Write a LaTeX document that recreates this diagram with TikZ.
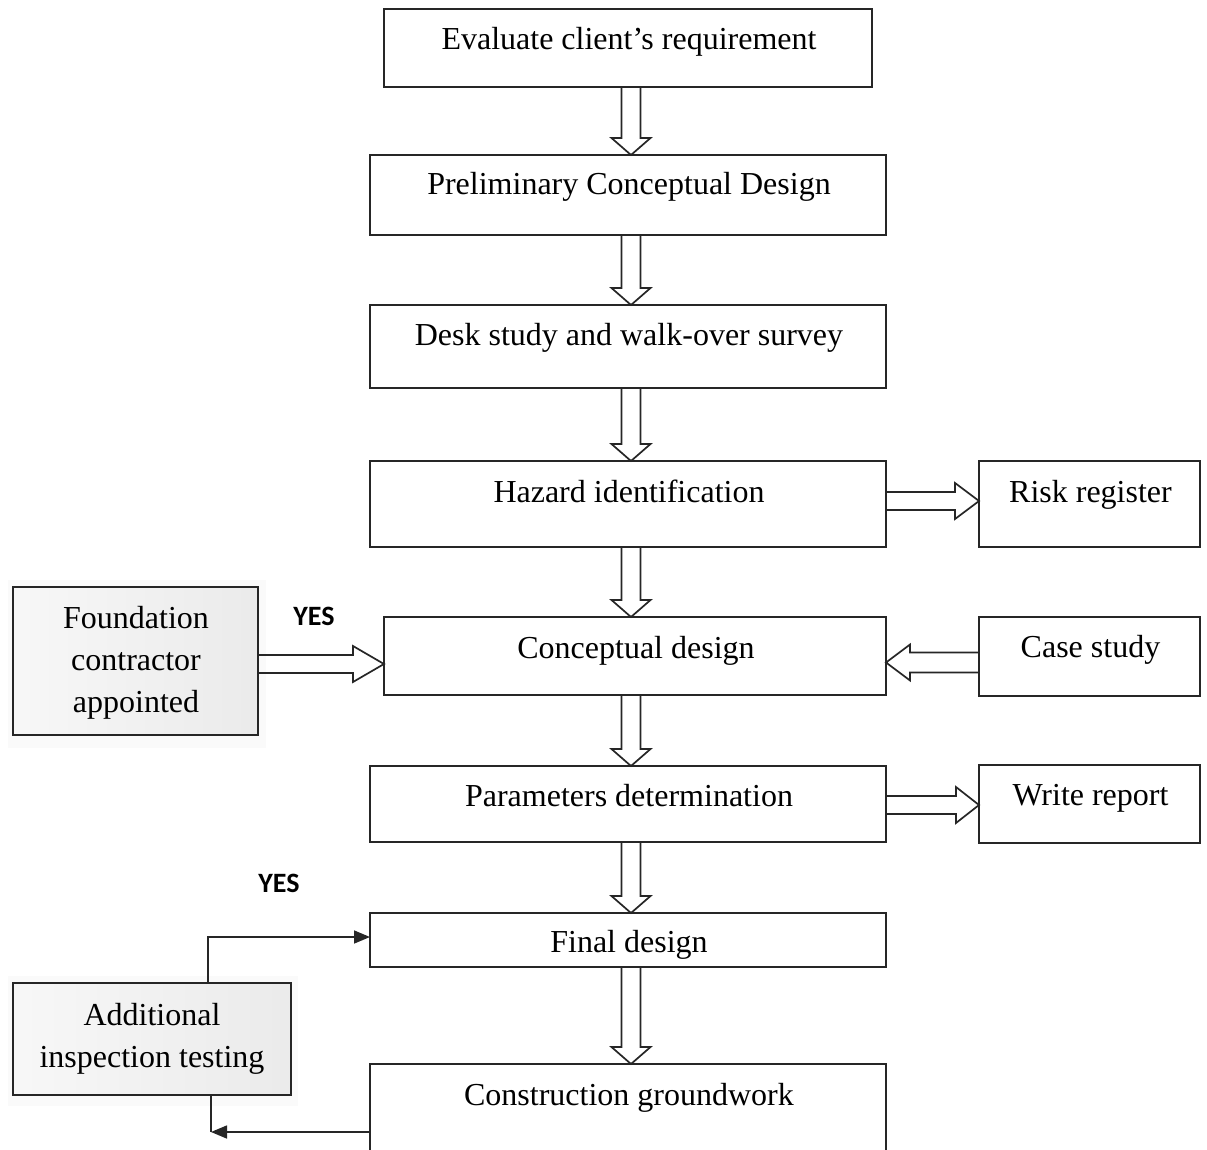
\documentclass[tikz,border=0pt]{standalone}
\usepackage{fontspec}
\setmainfont{Liberation Serif}
\newfontfamily\yesfont{Carlito}
\usetikzlibrary{calc,arrows.meta}
\tikzset{
  box/.style={draw=black!85, line width=1.6pt, rectangle, inner sep=0pt, outer sep=0pt},
  graybox/.style={box, left color=gray!6, right color=gray!16},
  lbl/.style={anchor=base, font=\fontsize{32}{42}\selectfont, align=center, inner sep=0pt},
  yes/.style={anchor=base, font=\yesfont\bfseries\fontsize{28}{32}\selectfont, inner sep=0pt},
  hollow/.style={draw=black!85, line width=1.7pt, line join=miter},
  conn/.style={draw=black!85, line width=1.6pt},
  connarr/.style={conn, -{Triangle[length=16pt,width=13pt]}}
}
% box: name, x1, y1, x2, y2, style
\newcommand\mkbox[6]{%
  \node[#6, minimum width={#4pt-#2pt}, minimum height={#5pt-#3pt}, anchor=north west] (#1) at (#2,#3) {};}
% vertical hollow arrow from #1 down to #2
\newcommand\vhol[2]{%
  \coordinate (vs) at (#1.south -| axis);
  \coordinate (vt) at (#2.north -| axis);
  \draw[hollow] ($(vs)+(-9.5,0)$) -- ($(vt)+(-9.5,-17)$) -- ($(vt)+(-19.5,-17)$) -- (vt)
     -- ($(vt)+(19.5,-17)$) -- ($(vt)+(9.5,-17)$) -- ($(vs)+(9.5,0)$);}
% rightward hollow arrow #1 -> #2, y offset #3, head length #4
\newcommand\hright[4]{%
  \coordinate (hs) at ($(#1.east)+(0,#3)$);
  \coordinate (ht) at (#2.west |- hs);
  \draw[hollow] ($(hs)+(0,-9)$) -- ($(ht)+(-#4,-9)$) -- ($(ht)+(-#4,-18)$) -- (ht)
     -- ($(ht)+(-#4,18)$) -- ($(ht)+(-#4,9)$) -- ($(hs)+(0,9)$);}
% leftward hollow arrow #1 -> #2
\newcommand\hleft[4]{%
  \coordinate (hs) at ($(#1.west)+(0,#3)$);
  \coordinate (ht) at (#2.east |- hs);
  \draw[hollow] ($(hs)+(0,-10)$) -- ($(ht)+(#4,-10)$) -- ($(ht)+(#4,-18)$) -- (ht)
     -- ($(ht)+(#4,18)$) -- ($(ht)+(#4,10)$) -- ($(hs)+(0,10)$);}
\begin{document}
\begin{tikzpicture}[x=1pt,y=-1pt]
\useasboundingbox (0,0) rectangle (1207,1150);
\clip (0,0) rectangle (1207,1150);
\fill[white] (0,0) rectangle (1207,1150);
\coordinate (axis) at (631,0);

% faint scan shading around the grey boxes
\fill[gray!4] (8,580) rectangle (266,748);
\fill[gray!4] (8,976) rectangle (298,1106);

% main column
\mkbox{b1}{384}{9}{872}{87}{box}
\mkbox{b2}{370}{155}{886}{235}{box}
\mkbox{b3}{370}{305}{886}{388}{box}
\mkbox{b4}{370}{461}{886}{547}{box}
\mkbox{b5}{384}{617}{886}{695}{box}
\mkbox{b6}{370}{766}{886}{842}{box}
\mkbox{b7}{370}{913}{886}{967}{box}
\mkbox{b8}{370}{1064}{886}{1175}{box}
% right column
\mkbox{risk}{979}{461}{1200}{547}{box}
\mkbox{case}{979}{617}{1200}{696}{box}
\mkbox{wrep}{979}{765}{1200}{843}{box}
% left column
\mkbox{found}{13}{587}{258}{735}{graybox}
\mkbox{add}{13}{983}{291}{1095}{graybox}

% labels
\node[lbl] (t1) at ($(b1.north)+(1,41)$) {Evaluate client’s requirement};
\node[lbl] (t2) at ($(b2.north)+(1,40)$) {Preliminary Conceptual Design};
\node[lbl] (t3) at ($(b3.north)+(1,40)$) {Desk study and walk-over survey};
\node[lbl] (t4) at ($(b4.north)+(1,41)$) {Hazard identification};
\node[lbl] (t5) at ($(b5.north)+(1,41)$) {Conceptual design};
\node[lbl] (t6) at ($(b6.north)+(1,40)$) {Parameters determination};
\node[lbl] (t7) at ($(b7.north)+(1,39)$) {Final design};
\node[lbl] (t8) at ($(b8.north)+(1,41)$) {Construction groundwork};
\node[lbl] (tr) at ($(risk.north)+(1,41)$) {Risk register};
\node[lbl] (tc) at ($(case.north)+(1,40)$) {Case study};
\node[lbl] (tw) at ($(wrep.north)+(1,40)$) {Write report};
\node[lbl] (tf1) at (136,628) {Foundation};
\node[lbl] (tf2) at (136,670) {contractor};
\node[lbl] (tf3) at (136,712) {appointed};
\node[lbl] (ta1) at (152,1025) {Additional};
\node[lbl] (ta2) at (152,1067) {inspection testing};
\node[yes] (yes1) at (314,625) {YES};
\node[yes] (yes2) at (279,892) {YES};

% hollow arrows
\vhol{b1}{b2}
\vhol{b2}{b3}
\vhol{b3}{b4}
\vhol{b4}{b5}
\vhol{b5}{b6}
\vhol{b6}{b7}
\vhol{b7}{b8}
\hright{b4}{risk}{-3}{24}
\hright{found}{b5}{3}{31}
\hright{b6}{wrep}{1}{23}
\hleft{case}{b5}{6}{24}

% thin connectors
\coordinate (c1) at (208,937);
\draw[connarr] (add.north -| c1) -- (c1) -- (b7.west |- c1);
\coordinate (c2) at (211,1132);
\draw[conn] (add.south -| c2) -- (c2);
\draw[connarr] (b8.west |- c2) -- (c2);
\end{tikzpicture}
\end{document}
